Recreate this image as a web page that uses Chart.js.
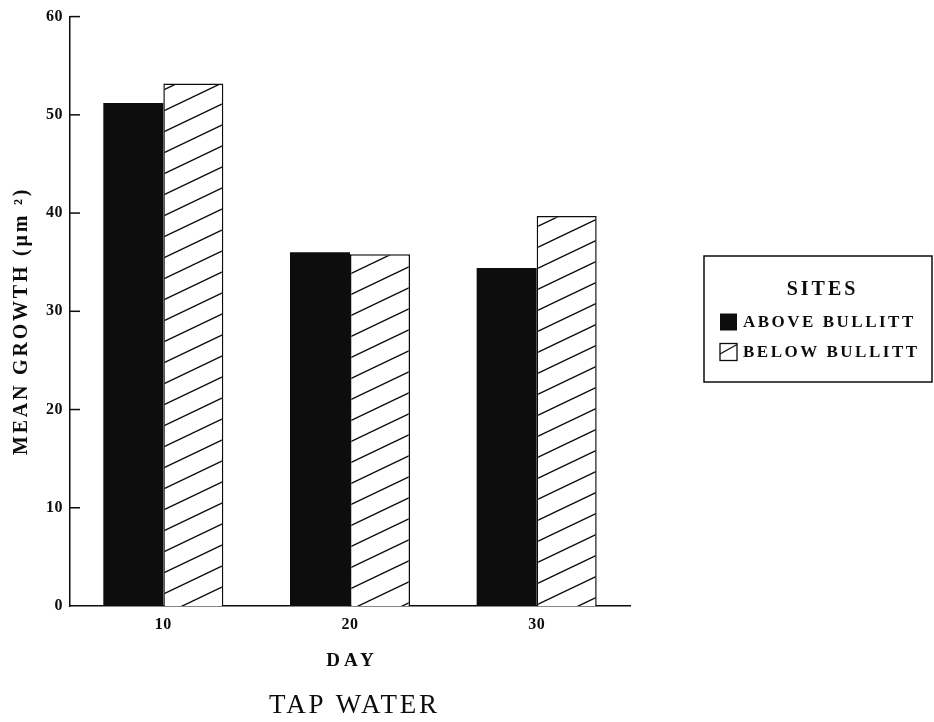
<!DOCTYPE html>
<html><head><meta charset="utf-8">
<script src="https://cdn.jsdelivr.net/npm/chart.js@4"></script>
<style>html,body{margin:0;padding:0;background:#fff}#wrap{width:934px;height:722px}</style>
</head><body><div id="wrap"><canvas id="c" width="934" height="722"></canvas></div>
<script>
const days = ['10', '20', '30'];
const aboveBullitt = [51.2, 36.0, 34.4];
const belowBullitt = [53.2, 35.8, 39.7];
const yTicks = [0, 10, 20, 30, 40, 50, 60];
const seriesNames = ['ABOVE BULLITT', 'BELOW BULLITT'];
const legendTitle = 'SITES';
const xTitle = 'DAY';
const yTitle = 'MEAN GROWTH (μm ²)';
const chartTitle = 'TAP WATER';

const INK = '#0d0d0d';
const SERIF = '"Liberation Serif", "DejaVu Serif", serif';

function makeHatch() {
  const w = 44, h = 21;
  const c = document.createElement('canvas');
  c.width = w; c.height = h;
  const x = c.getContext('2d');
  x.fillStyle = '#fff'; x.fillRect(0, 0, w, h);
  x.strokeStyle = INK; x.lineWidth = 1.4;
  x.beginPath();
  for (let k = -1; k <= 1; k++) { x.moveTo(0, h + h * k); x.lineTo(w, h * k); }
  x.stroke();
  return document.getElementById('c').getContext('2d').createPattern(c, 'repeat');
}
const hatch = makeHatch();

function spacedText(ctx, text, x, y, font, spacing) {
  ctx.font = font;
  ctx.letterSpacing = spacing + 'px';
  ctx.fillText(text, x + spacing / 2, y);
}

const spacingPlugin = {
  id: 'spacing',
  beforeDraw(chart) { chart.ctx.letterSpacing = '0.5px'; }
};

const innerTicks = {
  id: 'innerTicks',
  afterDraw(chart) {
    const y = chart.scales.y, ctx = chart.ctx;
    ctx.save();
    ctx.strokeStyle = INK; ctx.lineWidth = 1.5;
    y.ticks.forEach(t => {
      if (t.value === 0) return;
      const py = y.getPixelForValue(t.value);
      ctx.beginPath(); ctx.moveTo(y.right, py); ctx.lineTo(y.right + 10, py); ctx.stroke();
    });
    ctx.restore();
  }
};

const titles = {
  id: 'titles',
  afterDraw(chart) {
    const ctx = chart.ctx, a = chart.chartArea;
    const cx = (a.left + a.right) / 2;
    ctx.save();
    ctx.fillStyle = INK;
    ctx.textAlign = 'center';
    ctx.textBaseline = 'middle';
    spacedText(ctx, xTitle, cx, a.bottom + 55, 'bold 19px ' + SERIF, 4);
    spacedText(ctx, chartTitle, cx + 3, a.bottom + 100, '27px ' + SERIF, 2.8);
    ctx.translate(22, (a.top + a.bottom) / 2 + 11);
    ctx.rotate(-Math.PI / 2);
    spacedText(ctx, yTitle, 0, 0, 'bold 20px ' + SERIF, 2.8);
    ctx.restore();
  }
};

const boxLegend = {
  id: 'boxLegend',
  afterDraw(chart) {
    const ctx = chart.ctx;
    const L = 704, T = 256, R = 932, B = 382;
    ctx.save();
    ctx.strokeStyle = INK; ctx.lineWidth = 1.5;
    ctx.strokeRect(L, T, R - L, B - T);
    ctx.fillStyle = INK;
    ctx.textBaseline = 'middle';
    ctx.textAlign = 'center';
    spacedText(ctx, legendTitle, 821, 290, 'bold 20px ' + SERIF, 3);
    ctx.textAlign = 'left';
    chart.data.datasets.forEach((ds, i) => {
      const cy = 322 + i * 30;
      const sx = 720, sz = 17;
      if (i === 0) {
        ctx.fillStyle = INK; ctx.fillRect(sx, cy - sz / 2, sz, sz);
      } else {
        ctx.fillStyle = '#fff'; ctx.fillRect(sx, cy - sz / 2, sz, sz);
        ctx.strokeStyle = INK; ctx.lineWidth = 1.3;
        ctx.strokeRect(sx, cy - sz / 2, sz, sz);
        ctx.beginPath(); ctx.moveTo(sx, cy + 2); ctx.lineTo(sx + sz, cy - sz / 2 + 1); ctx.stroke();
      }
      ctx.fillStyle = INK;
      ctx.font = 'bold 17px ' + SERIF;
      ctx.letterSpacing = '2.5px';
      ctx.fillText(ds.label, 743, cy + 1);
    });
    ctx.restore();
  }
};

new Chart(document.getElementById('c'), {
  type: 'bar',
  data: {
    labels: days,
    datasets: [
      { label: seriesNames[0], data: aboveBullitt, backgroundColor: INK, borderWidth: 0 },
      { label: seriesNames[1], data: belowBullitt, backgroundColor: hatch, borderColor: INK, borderWidth: 1.5, borderSkipped: 'bottom' }
    ]
  },
  options: {
    responsive: false,
    animation: false,
    events: [],
    datasets: { bar: { categoryPercentage: 0.643, barPercentage: 1.0 } },
    layout: { padding: { top: 16, right: 304, left: 0, bottom: 0 } },
    plugins: {
      legend: { display: false },
      tooltip: { enabled: false },
      title: { display: false }
    },
    scales: {
      x: {
        grid: { display: false, drawTicks: false },
        border: { display: true, color: INK, width: 1.5 },
        ticks: { color: INK, font: { family: SERIF, size: 16, weight: 'bold' }, padding: 9 },
        afterFit(s) { s.height = 116; }
      },
      y: {
        min: 0, max: 60,
        afterBuildTicks(s) { s.ticks = yTicks.map(v => ({ value: v })); },
        grid: { display: false, drawTicks: false },
        border: { display: true, color: INK, width: 1.5 },
        ticks: { color: INK, font: { family: SERIF, size: 16, weight: 'bold' }, padding: 7 },
        afterFit(s) { s.width = 70; }
      }
    }
  },
  plugins: [spacingPlugin, innerTicks, titles, boxLegend]
});
</script></body></html>
